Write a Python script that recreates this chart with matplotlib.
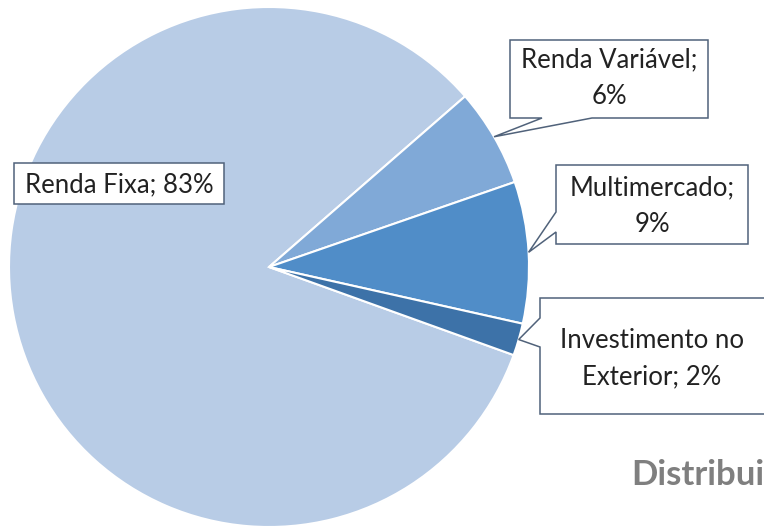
import matplotlib
matplotlib.use('Agg')
import matplotlib.pyplot as plt
import numpy as np
from matplotlib.patches import Polygon

categories = ['Renda Fixa', 'Renda Variável', 'Multimercado', 'Investimento no Exterior']
values = [83.1, 6.1, 8.8, 2.0]
label_lines = [['Renda Fixa; 83%'],
               ['Renda Variável;', '6%'],
               ['Multimercado;', '9%'],
               ['Investimento no', 'Exterior; 2%']]
title_text = 'Distribui'
colors = ['#b8cce6', '#80a9d7', '#508dc8', '#3d72a8']

W, H = 764, 526
FONT = 'Lato'
fig = plt.figure(figsize=(W / 100, H / 100), dpi=100)
ax = fig.add_axes([0, 0, 1, 1])
cx, cy, R = 269, H - 267, 260
wedges, _ = ax.pie(values, colors=colors, startangle=-19.8, counterclock=False,
                   center=(cx, cy), radius=R, frame=True,
                   wedgeprops=dict(edgecolor='white', linewidth=1.5))
ax.set_xlim(0, W)
ax.set_ylim(0, H)
ax.set_aspect('equal')
ax.axis('off')

def tip_of(w):
    m = np.deg2rad((w.theta1 + w.theta2) / 2)
    return (cx + R * np.cos(m), cy + R * np.sin(m))

edge = '#50627a'

def box(x0, y0, x1, y1, side=None, a=None, b=None, tip=None):
    pts = [(x0, y0), (x1, y0), (x1, y1)]
    if side == 'bottom':
        pts += [(b, y1), None, (a, y1)]
    pts += [(x0, y1)]
    if side == 'left':
        pts += [(x0, b), None, (x0, a)]
    verts = [tip if p is None else (p[0], H - p[1]) for p in pts]
    ax.add_patch(Polygon(verts, closed=True, facecolor='white', edgecolor=edge,
                         linewidth=1.1, zorder=5))

box(14, 163, 224, 204)
box(510, 40, 708, 118, 'bottom', 542, 592, tip_of(wedges[1]))
box(556, 165, 748, 244, 'left', 212, 232, tip_of(wedges[2]))
box(540, 298, 790, 414, 'left', 318, 347, tip_of(wedges[3]))

fs = 18.5
tc = '#222222'
def put(x, ys, lines):
    for y, s in zip(ys, lines):
        ax.text(x, H - y, s, ha='center', va='center', fontsize=fs,
                family=FONT, color=tc, zorder=6)

put(119, [185], label_lines[0])
put(609, [60, 97], label_lines[1])
put(652, [188, 225], label_lines[2])
put(652, [340, 377], label_lines[3])

ax.text(764, H - 475, title_text, ha='right', va='center', fontsize=25,
        family=FONT, fontweight='bold', color='#7f7f7f', zorder=6)

fig.savefig('out.png', dpi=100)
